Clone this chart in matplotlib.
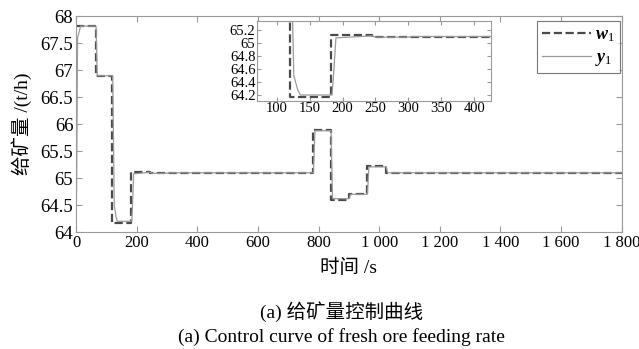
import numpy as np
import matplotlib
matplotlib.use('Agg')
import matplotlib.pyplot as plt

plt.rcParams['font.family'] = ['Liberation Serif', 'Noto Sans CJK SC']
plt.rcParams['mathtext.fontset'] = 'custom'
plt.rcParams['mathtext.it'] = 'Liberation Serif:italic:bold'
plt.rcParams['mathtext.rm'] = 'Liberation Serif'

# 설정값 w1 (계단형)
w_t = [0, 65, 65, 120, 120, 182, 182, 245, 245, 300, 300, 782, 782, 840, 840, 900, 900, 960, 960, 1022, 1022, 1800]
w_v = [67.82, 67.82, 66.9, 66.9, 64.17, 64.17, 65.12, 65.12, 65.09, 65.09, 65.1, 65.1, 65.9, 65.9, 64.6, 64.6,
       64.7, 64.7, 65.22, 65.22, 65.1, 65.1]
# 실제 출력 y1
y_t = [0, 2, 5, 15, 66, 70, 121, 126, 132, 136, 184, 186, 190, 245, 250, 300, 305, 783, 788, 841, 846, 901, 905,
       961, 966, 1023, 1028, 1800]
y_v = [64.0, 65.0, 67.6, 67.82, 67.82, 66.9, 66.9, 64.5, 64.28, 64.2, 64.2, 64.45, 65.08, 65.11, 65.09, 65.09,
       65.1, 65.1, 65.88, 65.88, 64.62, 64.62, 64.7, 64.7, 65.21, 65.21, 65.1, 65.1]

xticks = [0, 200, 400, 600, 800, 1000, 1200, 1400, 1600, 1800]
xtick_labels = ['0', '200', '400', '600', '800', '1 000', '1 200', '1 400', '1 600', '1 800']
yticks = [64, 64.5, 65, 65.5, 66, 66.5, 67, 67.5, 68]
ytick_labels = ['64', '64.5', '65', '65.5', '66', '66.5', '67', '67.5', '68']
inset_xticks = [100, 150, 200, 250, 300, 350, 400]
inset_yticks = [64.2, 64.4, 64.6, 64.8, 65, 65.2]
inset_ytick_labels = ['64.2', '64.4', '64.6', '64.8', '65', '65.2']

fig = plt.figure(figsize=(6.39, 3.49), dpi=100)
ax = fig.add_axes([0.119, 0.335, 0.854, 0.618])
ax.plot(w_t, w_v, '--', color='#4a4a4a', lw=1.6, label=r'$w_1$')
ax.plot(y_t, y_v, '-', color='#9a9a9a', lw=0.9, label=r'$y_1$')
ax.set_xlim(0, 1800)
ax.set_ylim(64, 68)
ax.set_xticks(xticks)
ax.set_xticklabels(xtick_labels)
ax.set_yticks(yticks)
ax.set_yticklabels(ytick_labels)
ax.tick_params(direction='in', top=True, right=True, colors='#999999', labelcolor='black', length=4, pad=2)
ax.tick_params(axis='x', labelsize=12)
ax.tick_params(axis='y', labelsize=13.5)
for s in ax.spines.values():
    s.set_color('#999999')
ax.set_xlabel('时间 /s', fontsize=14, labelpad=6)
ax.set_ylabel('给矿量 /(t/h)', fontsize=14, labelpad=6)
leg = ax.legend(loc='upper right', fontsize=13, handlelength=2.7, frameon=True, fancybox=False,
                edgecolor='#555555', borderpad=0.3, labelspacing=0.25, handletextpad=0.2,
                borderaxespad=0, bbox_to_anchor=(0.996, 0.977))
leg.get_frame().set_linewidth(0.8)

# 확대 그림
axi = fig.add_axes([0.402, 0.711, 0.366, 0.229])
axi.plot(w_t, w_v, '--', color='#4a4a4a', lw=1.6)
axi.plot(y_t, y_v, '-', color='#9a9a9a', lw=0.9)
axi.set_xlim(70, 425)
axi.set_ylim(64.11, 65.34)
axi.set_xticks(inset_xticks)
axi.set_yticks(inset_yticks)
axi.set_yticklabels(inset_ytick_labels)
axi.tick_params(direction='in', top=True, right=True, labelsize=10.5, colors='#999999', labelcolor='black',
                length=3, pad=1)
for s in axi.spines.values():
    s.set_color('#999999')

fig.text(0.535, 0.106, '(a) 给矿量控制曲线', ha='center', va='center', fontsize=14)
fig.text(0.535, 0.034, '(a) Control curve of fresh ore feeding rate', ha='center', va='center', fontsize=14)

fig.savefig('out.png', dpi=100)
